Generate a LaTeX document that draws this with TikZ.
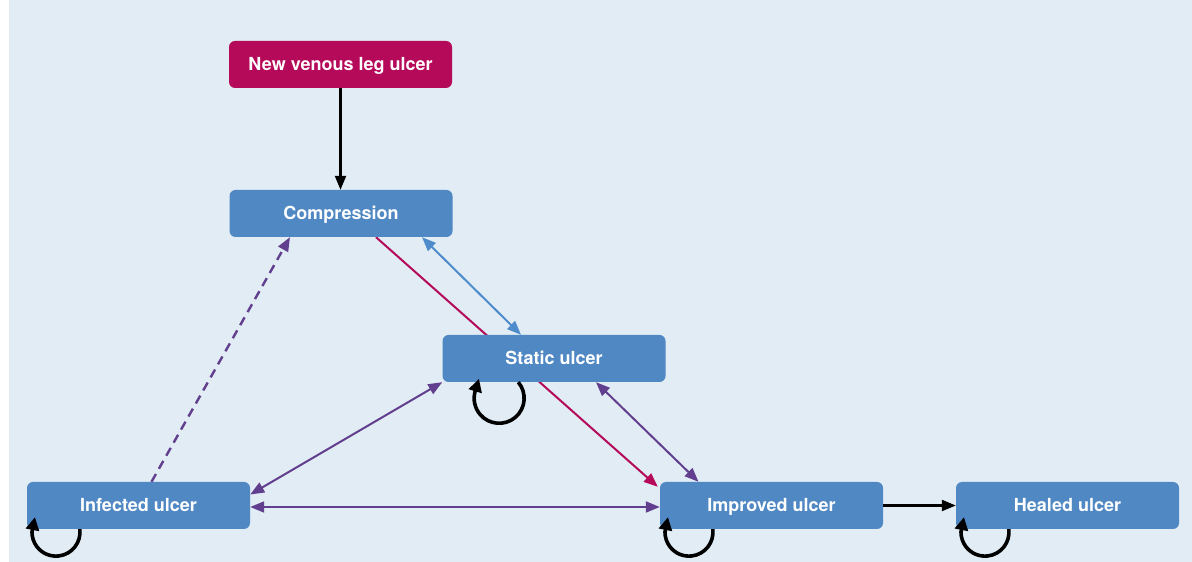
\documentclass[tikz,border=0pt]{standalone}
\usepackage{fontspec}
\setsansfont{TeX Gyre Heros}
\usepackage{xcolor}
\usepackage{tikz}
\usetikzlibrary{backgrounds}
\usetikzlibrary{arrows.meta,calc,positioning}

\definecolor{panelblue}{HTML}{E1ECF4}
\definecolor{boxblue}{HTML}{5088C4}
\definecolor{arrowblue}{HTML}{4E8BCB}
\definecolor{ulcerred}{HTML}{B5095A}
\definecolor{ulcerpurple}{HTML}{623E8E}

\begin{document}
\begin{tikzpicture}
            [x=1pt,y=1pt,>={Triangle[length=14pt,width=11pt]},
            state/.style={rectangle,rounded corners=6pt,fill=boxblue,text=white,minimum width=223pt,minimum height=47pt,inner sep=0pt,text height=13pt,text depth=0pt,font=\fontsize{18}{20}\selectfont\sffamily\bfseries},
            start state/.style={state,fill=ulcerred},
            plain arrow/.style={->,line width=2.2pt,black},
            worse arrow/.style={line width=2pt,ulcerpurple},
            selfloop/.style={line width=3.6pt,black,-{Triangle[length=13pt,width=13pt]}}]
            \useasboundingbox (0,0) rectangle (1192,562);
            \node[start state] (new) at (340.5,497.5) {New venous leg ulcer};
            \node[state] (comp) at (341,348.5) {Compression};
            \node[state] (static) at (554,203.5) {Static ulcer};
            \node[state] (inf) at (138.5,56.5) {Infected ulcer};
            \node[state] (impr) at (771.5,56.5) {Improved ulcer};
            \node[state] (heal) at (1067.5,56.5) {Healed ulcer};
            % panel and the line that runs behind the static box
            \begin{scope}[on background layer]
            \fill[panelblue] (9,0) rectangle (1192,562);
            \draw[->,line width=2pt,ulcerred] ($(comp.south)+(35,0)$) -- ($(impr.north west)+(-2,-5)$);
            \end{scope}
            \draw[plain arrow] (new.south) -- (new.south |- comp.north);
            \draw[<->,line width=2pt,arrowblue] ($(comp.south)+(81,0)$) -- ($(static.north)+(-33,0)$);
            \draw[worse arrow,<->] ($(static.south)+(42,0)$) -- ($(impr.north)+(-73,0)$);
            \draw[worse arrow,<->] (static.south west) -- ($(inf.east)+(0,11)$);
            \draw[worse arrow,<->] ($(inf.east)+(0,-1.5)$) -- ($(impr.west)+(0,-1.5)$);
            \draw[worse arrow,->,dashed,dash pattern=on 9pt off 6pt,line width=2.4pt] ($(inf.north)+(13,0)$) -- ($(comp.south)+(-51,0)$);
            \draw[plain arrow] (impr.east) -- (heal.east -| heal.west);
            % self loops
            \draw[selfloop] ($(static.south west)+(76,0)$) arc[start angle=40,end angle=-195,radius=25] -- +(4,13);
            \foreach \s in {inf,impr,heal}
                \draw[selfloop] ($(\s.south west)+(53,0)$) arc[start angle=7,end angle=-180,radius=24] -- +(3,15);
            \end{tikzpicture}
\end{document}
